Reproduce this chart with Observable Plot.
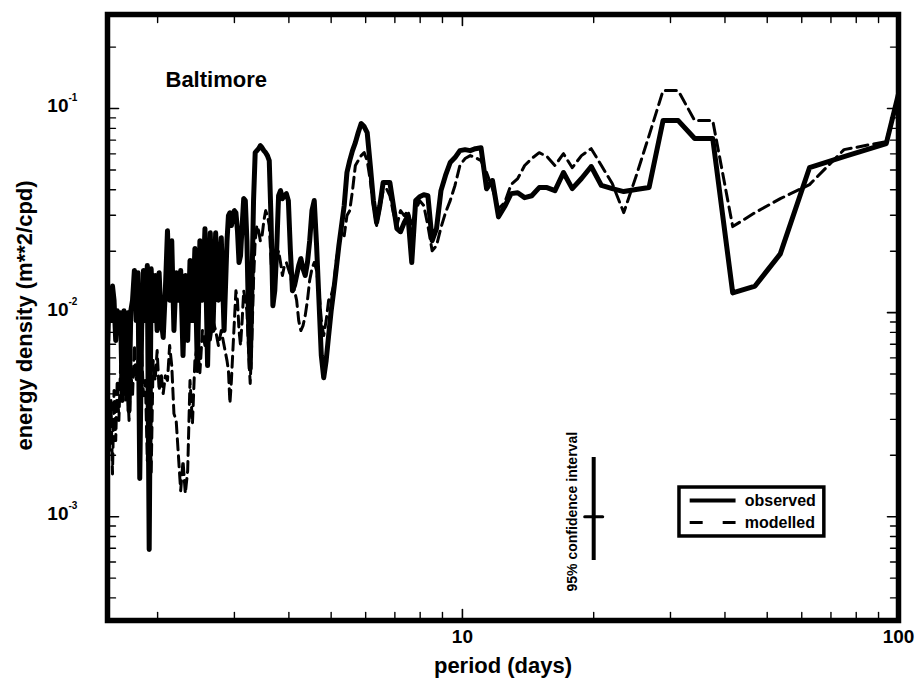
<!DOCTYPE html>
<html><head><meta charset="utf-8">
<script src="https://cdn.jsdelivr.net/npm/d3@7"></script>
<script src="https://cdn.jsdelivr.net/npm/@observablehq/plot@0.6"></script>
<style>body{margin:0;background:#fff}#chart{width:917px;height:681px}</style>
</head><body><div id="chart"></div>
<script>
const period = [100, 93.75, 75, 62.5, 53.57, 46.88, 41.67, 37.5, 34.09, 31.25, 28.85, 26.79, 25, 23.44, 22.06, 20.83, 19.74, 18.75, 17.86, 17.05, 16.3, 15.63, 15, 14.42, 13.89, 13.39, 12.93, 12.5, 12.1, 11.72, 11.36, 11.03, 10.71, 10.42, 10.14, 9.868,
 9.615, 9.375, 9.146, 8.929, 8.721, 8.523, 8.333, 8.152, 7.979, 7.813, 7.653, 7.5, 7.353, 7.212, 7.075, 6.944, 6.818, 6.696, 6.579, 6.466, 6.356, 6.25, 6.148, 6.048, 5.952, 5.859, 5.769, 5.682, 5.597, 5.515, 5.435, 5.357, 5.282,
 5.208, 5.137, 5.068, 5.0, 4.934, 4.870, 4.808, 4.747, 4.688, 4.630, 4.573, 4.518, 4.464, 4.412, 4.360, 4.310, 4.261, 4.213, 4.167, 4.121, 4.076, 4.032, 3.989, 3.947, 3.906, 3.866, 3.827, 3.788, 3.75, 3.713, 3.676, 3.641, 3.606, 3.571, 3.538, 3.505, 3.472, 3.440, 3.409, 3.378, 3.348, 3.319, 3.289, 3.261, 3.233, 3.205, 3.178, 3.151, 3.125, 3.099, 3.074, 3.049, 3.024, 3.0, 2.976, 2.953, 2.930, 2.907,
 2.885, 2.841, 2.799, 2.757, 2.717, 2.679, 2.641, 2.604, 2.568, 2.534, 2.5, 2.467, 2.435, 2.404, 2.373, 2.344, 2.315, 2.287, 2.259, 2.232, 2.206, 2.180, 2.155, 2.131, 2.107, 2.083, 2.060, 2.038, 2.016, 1.995, 1.974, 1.953, 1.933, 1.913, 1.894, 1.875, 1.856, 1.838, 1.820, 1.803, 1.786, 1.769, 1.752, 1.736, 1.720, 1.705, 1.689, 1.674, 1.659, 1.645, 1.630, 1.616, 1.603, 1.589, 1.576, 1.563, 1.550, 1.537, 1.524, 1.518];

const observed = [0.118, 0.0674, 0.0582, 0.0513, 0.0194, 0.0135, 0.0125, 0.0713, 0.0713, 0.0873, 0.0873, 0.041, 0.0401, 0.0392, 0.0405, 0.042, 0.052, 0.0454, 0.0405, 0.0486, 0.0396, 0.041, 0.041, 0.0374, 0.0366, 0.0387, 0.0383, 0.0331, 0.0295, 0.0444, 0.0405, 0.0643, 0.0636, 0.0622, 0.0629, 0.0622,
 0.0575, 0.0544, 0.047, 0.0396, 0.0258, 0.0225, 0.0374, 0.0378, 0.037, 0.0354, 0.0176, 0.0299, 0.0276, 0.0249, 0.0258, 0.0335, 0.0434, 0.0434, 0.0434, 0.0335, 0.0276, 0.0354, 0.0526, 0.0763, 0.0816, 0.0844, 0.0763, 0.0681, 0.0622, 0.0556, 0.0486, 0.0335, 0.0267,
 0.0213, 0.0164, 0.0128, 0.0102, 0.00772, 0.00582, 0.0048, 0.00616, 0.0115, 0.0213, 0.0354, 0.0316, 0.0225, 0.0176, 0.0152, 0.0164, 0.0184, 0.017, 0.0152, 0.0136, 0.0128, 0.0201, 0.0354, 0.0383, 0.0374, 0.0362, 0.0396, 0.0374, 0.0201, 0.0128, 0.0108, 0.0282, 0.0556, 0.0588, 0.0608, 0.0622, 0.0643, 0.0658, 0.0636, 0.0622, 0.0608, 0.0354, 0.0128, 0.00532, 0.00914, 0.0225, 0.0354, 0.0362, 0.0267, 0.019, 0.0176, 0.0252, 0.0309, 0.0316, 0.0299, 0.0267, 0.0309, 0.0299,
 0.0225, 0.00817, 0.0233, 0.0115, 0.0246, 0.00817, 0.0246, 0.0055, 0.0258, 0.0115, 0.0225, 0.0052, 0.0206, 0.00914, 0.018, 0.0073, 0.0152, 0.00616, 0.0161, 0.0115, 0.0157, 0.00817, 0.0225, 0.0115, 0.0252, 0.0128, 0.00755, 0.00914, 0.0157, 0.00817, 0.0152, 0.00914, 0.0164, 0.00069, 0.017, 0.00914, 0.0161, 0.00817, 0.00154, 0.0157, 0.00914, 0.0161, 0.0115, 0.0102, 0.00331, 0.01, 0.00465, 0.0102, 0.00371, 0.01, 0.00817, 0.0102, 0.0073, 0.0115, 0.0135, 0.00914, 0.0131, 0.0073, 0.0115, 0.0128];

const modelled = [0.118, 0.0689, 0.0629, 0.0424, 0.0362, 0.0309, 0.0264, 0.0873, 0.0873, 0.1225, 0.1225, 0.0737, 0.0464, 0.0309, 0.0429, 0.0526, 0.0636, 0.0588, 0.0513, 0.0601, 0.0526, 0.0582, 0.0608, 0.0569, 0.0526, 0.0454, 0.0424, 0.0346, 0.0323, 0.0405, 0.0486, 0.0556, 0.0575, 0.0588, 0.0569, 0.0526,
 0.042, 0.0354, 0.0309, 0.0261, 0.0213, 0.0201, 0.0267, 0.0335, 0.0354, 0.0316, 0.0267, 0.0316, 0.0299, 0.0316, 0.0267, 0.0309, 0.0374, 0.0405, 0.0396, 0.0323, 0.0267, 0.0335, 0.0444, 0.0556, 0.0608, 0.0588, 0.0556, 0.0526, 0.0396, 0.0316, 0.0299, 0.0238, 0.0252,
 0.0213, 0.018, 0.0136, 0.0121, 0.0115, 0.00914, 0.00772, 0.00914, 0.0128, 0.0161, 0.0176, 0.0164, 0.0144, 0.0115, 0.00967, 0.00864, 0.00817, 0.00914, 0.0115, 0.0128, 0.0136, 0.0152, 0.0164, 0.0176, 0.017, 0.0152, 0.0176, 0.0201, 0.018, 0.0128, 0.0115, 0.018, 0.0267, 0.0299, 0.0316, 0.0282, 0.0238, 0.0225, 0.0252, 0.0267, 0.0225, 0.0144, 0.0073, 0.0045, 0.00652, 0.0102, 0.0115, 0.0128, 0.00914, 0.0069, 0.00817, 0.0115, 0.0128, 0.00914, 0.00652, 0.00465, 0.00359, 0.0052,
 0.00582, 0.0069, 0.00817, 0.0069, 0.00817, 0.00914, 0.0073, 0.00894, 0.0069, 0.00817, 0.00508, 0.0069, 0.00582, 0.00286, 0.00465, 0.00168, 0.0013, 0.00188, 0.00134, 0.002, 0.00296, 0.0032, 0.0055, 0.0069, 0.00465, 0.0049, 0.00401, 0.00503, 0.00415, 0.00652, 0.00465, 0.00582, 0.00162, 0.00371, 0.00188, 0.00465, 0.00392, 0.00652, 0.00296, 0.00582, 0.00465, 0.0069, 0.00392, 0.0052, 0.00296, 0.00465, 0.00371, 0.00603, 0.00392, 0.0055, 0.00296, 0.00465, 0.00236, 0.00415, 0.00162, 0.00371, 0.00211, 0.00392, 0.00168, 0.00264];

const xMajorTicks = [10, 100];
const xTickLabels = ["10", "100"];
const xMinorTicks = [2, 3, 4, 5, 6, 7, 8, 9, 20, 30, 40, 50, 60, 70, 80, 90];
const yMajorTicks = [0.001, 0.01, 0.1];
const yTickExponents = ["-3", "-2", "-1"];
const yMinorTicks = [4e-4, 5e-4, 6e-4, 7e-4, 8e-4, 9e-4, 0.002, 0.003, 0.004, 0.005, 0.006, 0.007, 0.008, 0.009, 0.02, 0.03, 0.04, 0.05, 0.06, 0.07, 0.08, 0.09, 0.2];

const seriesNames = ["observed", "modelled"];
const confidence = [{period: 20, center: 0.001, low: 0.00061, high: 0.00195, label: "95% confidence interval"}];
const legendBox = [{x1: 31.46, x2: 67.6, y1: 0.0008, y2: 0.00139}];
const legendRows = [
  {name: "observed", y: 0.0012, x1: 33.2, x2: 42.3, xt: 44.4},
  {name: "modelled", y: 0.000937, x1: 33.2, x2: 42.3, xt: 44.4}
];

const rows = period.map((p, i) => ({period: p, observed: observed[i], modelled: modelled[i]}));
const lineShape = {draw(ctx, l) { ctx.moveTo(0, 0); ctx.lineTo(0, -l); }};

function ticks(data, axis, anchor, rotate, length, sw) {
  const o = {frameAnchor: anchor, rotate, length, anchor: "start", shape: lineShape, stroke: "black", strokeWidth: sw};
  o[axis] = d => d;
  return Plot.vector(data, o);
}

const chart = Plot.plot({
  width: 917, height: 681,
  marginLeft: 107, marginRight: 19, marginTop: 14, marginBottom: 61,
  x: {type: "log", domain: [1.535, 100], axis: null},
  y: {type: "log", domain: [3.1e-4, 0.289], axis: null},
  style: {fontFamily: "'Liberation Sans', Arial, Helvetica, sans-serif", background: "white", color: "black"},
  marks: [
    Plot.line(rows, {x: "period", y: "modelled", stroke: "black", strokeWidth: 3, strokeDasharray: "11,6", clip: true}),
    Plot.line(rows, {x: "period", y: "observed", stroke: "black", strokeWidth: 5, strokeLinejoin: "round", clip: true}),
    Plot.frame({stroke: "black", strokeWidth: 5.5}),
    ticks(xMajorTicks, "x", "bottom", 0, 11, 1.6),
    ticks(xMinorTicks, "x", "bottom", 0, 8, 1.4),
    ticks(xMajorTicks, "x", "top", 180, 11, 1.6),
    ticks(xMinorTicks, "x", "top", 180, 8, 1.4),
    ticks(yMajorTicks, "y", "left", 90, 11, 1.6),
    ticks(yMinorTicks, "y", "left", 90, 8, 1.4),
    ticks(yMajorTicks, "y", "right", -90, 11, 1.6),
    ticks(yMinorTicks, "y", "right", -90, 8, 1.4),
    Plot.text(xMajorTicks, {x: d => d, frameAnchor: "bottom", dy: 22, text: (d, i) => xTickLabels[i], fontSize: 19, fontWeight: "bold"}),
    Plot.text(yMajorTicks, {y: d => d, frameAnchor: "left", dx: -39, dy: -3, textAnchor: "end", text: () => "10", fontSize: 19, fontWeight: "bold"}),
    Plot.text(yMajorTicks, {y: d => d, frameAnchor: "left", dx: -39, dy: -11, textAnchor: "start", text: (d, i) => yTickExponents[i], fontSize: 10, fontWeight: "bold"}),
    Plot.text(["period (days)"], {frameAnchor: "bottom", dy: 52, textAnchor: "middle", text: d => d, fontSize: 22, fontWeight: "bold"}),
    Plot.text(["energy density (m**2/cpd)"], {frameAnchor: "left", dx: -83, dy: -2, rotate: -90, textAnchor: "middle", text: d => d, fontSize: 22, fontWeight: "bold"}),
    Plot.text(["Baltimore"], {frameAnchor: "top-left", dx: 58, dy: 57, textAnchor: "start", text: d => d, fontSize: 22, fontWeight: "bold"}),
    Plot.ruleX(confidence, {x: "period", y1: "low", y2: "high", stroke: "black", strokeWidth: 4}),
    Plot.vector(confidence, {x: "period", y: "center", rotate: 90, length: 18, anchor: "middle", shape: lineShape, stroke: "black", strokeWidth: 3}),
    Plot.text(confidence, {x: "period", y: "center", text: "label", rotate: -90, dx: -21, dy: -5, textAnchor: "middle", fontSize: 14, fontWeight: "bold"}),
    Plot.rect(legendBox, {x1: "x1", x2: "x2", y1: "y1", y2: "y2", fill: "white", stroke: "black", strokeWidth: 3.5}),
    Plot.link(legendRows.slice(0, 1), {x1: "x1", x2: "x2", y1: "y", y2: "y", stroke: "black", strokeWidth: 4}),
    Plot.link(legendRows.slice(1), {x1: "x1", x2: "x2", y1: "y", y2: "y", stroke: "black", strokeWidth: 3, strokeDasharray: "13,20"}),
    Plot.text(legendRows, {x: "xt", y: "y", text: (d, i) => seriesNames[i], textAnchor: "start", fontSize: 16, fontWeight: "bold"})
  ]
});
document.getElementById("chart").appendChild(chart);
</script>
</body></html>
